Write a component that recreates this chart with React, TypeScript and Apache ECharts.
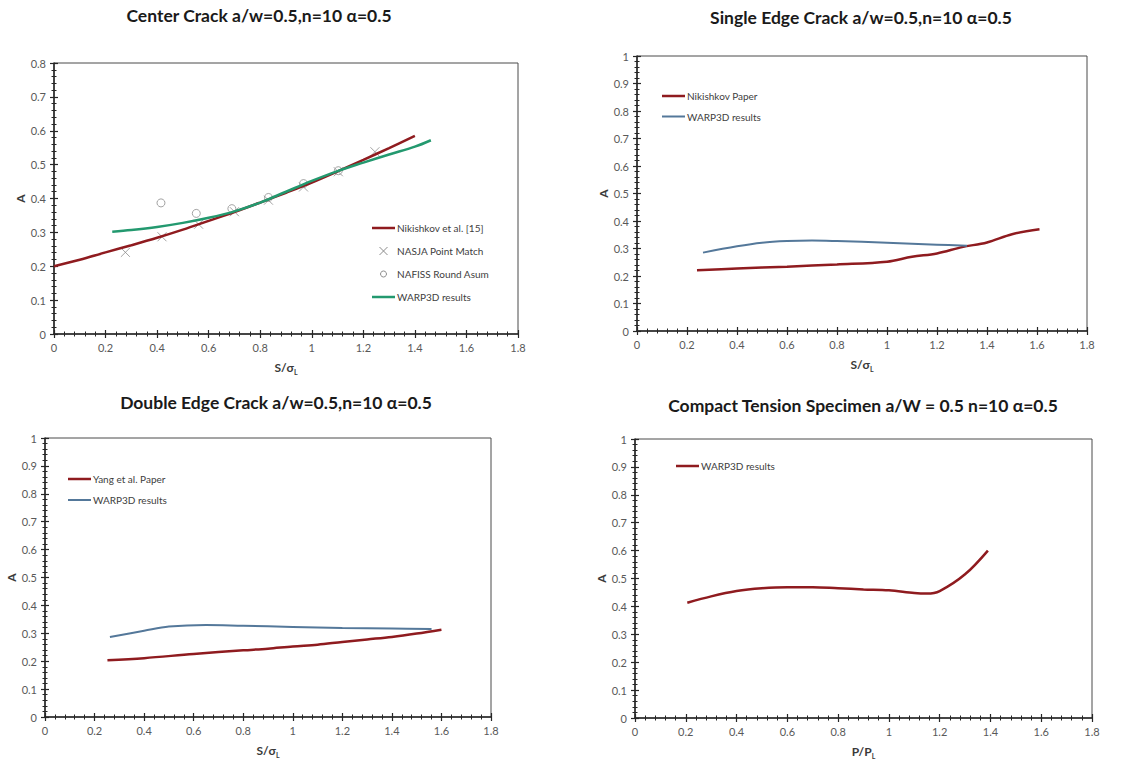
import React, { useEffect, useRef } from "react";
import * as echarts from "echarts";

// ---- data: [S/σL or P/PL, A] pairs ----
const centerNikishkov: [number, number][] = [
  [0, 0.2], [0.1, 0.219], [0.2, 0.241], [0.3, 0.262], [0.4, 0.284], [0.5, 0.308],
  [0.6, 0.334], [0.7, 0.36], [0.8, 0.388], [0.9, 0.417], [1.0, 0.447], [1.1, 0.48],
  [1.2, 0.514], [1.3, 0.549], [1.4, 0.585],
];
const centerNasja: [number, number][] = [
  [0.277, 0.241], [0.419, 0.287], [0.561, 0.324], [0.7, 0.361], [0.832, 0.395],
  [0.968, 0.434], [1.103, 0.479], [1.245, 0.538],
];
const centerNafiss: [number, number][] = [
  [0.415, 0.387], [0.552, 0.356], [0.69, 0.37], [0.832, 0.403], [0.968, 0.444], [1.103, 0.482],
];
const centerWarp: [number, number][] = [
  [0.226, 0.302], [0.3, 0.307], [0.4, 0.316], [0.5, 0.328], [0.6, 0.343], [0.7, 0.362],
  [0.8, 0.388], [0.9, 0.42], [1.0, 0.452], [1.1, 0.481], [1.2, 0.506], [1.3, 0.53],
  [1.4, 0.553], [1.462, 0.572],
];
const singleNikishkov: [number, number][] = [
  [0.24, 0.221], [0.4, 0.227], [0.6, 0.234], [0.8, 0.242], [1.0, 0.252], [1.1, 0.27],
  [1.2, 0.282], [1.3, 0.305], [1.4, 0.322], [1.5, 0.352], [1.61, 0.37],
];
const singleWarp: [number, number][] = [
  [0.264, 0.285], [0.4, 0.308], [0.5, 0.321], [0.6, 0.327], [0.7, 0.329], [0.8, 0.327],
  [1.0, 0.321], [1.2, 0.314], [1.32, 0.31],
];
const doubleYang: [number, number][] = [
  [0.252, 0.203], [0.4, 0.211], [0.6, 0.226], [0.8, 0.239], [0.9, 0.245], [1.0, 0.253],
  [1.1, 0.259], [1.2, 0.269], [1.3, 0.278], [1.4, 0.287], [1.5, 0.299], [1.6, 0.313],
];
const doubleWarp: [number, number][] = [
  [0.262, 0.287], [0.4, 0.309], [0.5, 0.324], [0.65, 0.33], [0.8, 0.327], [1.0, 0.323],
  [1.2, 0.319], [1.4, 0.317], [1.56, 0.315],
];
const compactWarp: [number, number][] = [
  [0.206, 0.413], [0.3, 0.436], [0.4, 0.455], [0.5, 0.465], [0.6, 0.469], [0.7, 0.469],
  [0.8, 0.465], [0.9, 0.461], [1.0, 0.458], [1.1, 0.448], [1.15, 0.446], [1.2, 0.455],
  [1.3, 0.515], [1.39, 0.6],
];

const titles = [
  "Center Crack a/w=0.5,n=10 α=0.5",
  "Single Edge Crack a/w=0.5,n=10 α=0.5",
  "Double Edge Crack a/w=0.5,n=10 α=0.5",
  "Compact Tension Specimen a/W = 0.5 n=10 α=0.5",
];
const xNames = ["S/σ{sub|L}", "S/σ{sub|L}", "S/σ{sub|L}", "P/P{sub|L}"];
const yMax = [0.8, 1, 1, 1];

// ---- styling ----
const FONT = 'Lato, "Open Sans", sans-serif';
const RED = "#8f1b1f";
const GREEN = "#23996f";
const BLUE = "#54789a";
const MARK = "#8c8c8c";
const AXIS = "#262626";

const grids = [
  { left: 54, top: 63, width: 464, height: 271 },
  { left: 637, top: 56, width: 450, height: 275 },
  { left: 45, top: 438, width: 446, height: 279 },
  { left: 635, top: 439, width: 457, height: 279 },
];
const titlePos = [
  [259, 15],
  [861, 17],
  [276, 402],
  [863, 405],
];

type LegendEntry = { name: string; kind: "line" | "cross" | "circle"; color: string; width?: number };
const legends: { x: number; y: number; gap: number; items: LegendEntry[] }[] = [
  {
    x: 372, y: 228, gap: 23,
    items: [
      { name: "Nikishkov et al. [15]", kind: "line", color: RED, width: 2.5 },
      { name: "NASJA Point Match", kind: "cross", color: MARK },
      { name: "NAFISS Round Asum", kind: "circle", color: MARK },
      { name: "WARP3D results", kind: "line", color: GREEN, width: 2.5 },
    ],
  },
  {
    x: 662, y: 96, gap: 20.5,
    items: [
      { name: "Nikishkov Paper", kind: "line", color: RED, width: 2.5 },
      { name: "WARP3D results", kind: "line", color: BLUE, width: 2 },
    ],
  },
  {
    x: 68, y: 479, gap: 21,
    items: [
      { name: "Yang et al. Paper", kind: "line", color: RED, width: 2.5 },
      { name: "WARP3D results", kind: "line", color: BLUE, width: 2 },
    ],
  },
  {
    x: 676, y: 466, gap: 21,
    items: [{ name: "WARP3D results", kind: "line", color: RED, width: 2.5 }],
  },
];

function legendGraphics() {
  const out: any[] = [];
  legends.forEach((lg) => {
    lg.items.forEach((it, k) => {
      const cy = lg.y + k * lg.gap;
      const x0 = lg.x;
      const x1 = lg.x + 23;
      if (it.kind === "line") {
        out.push({
          type: "line",
          shape: { x1: x0, y1: cy, x2: x1, y2: cy },
          style: { stroke: it.color, lineWidth: it.width ?? 2 },
        });
      } else if (it.kind === "cross") {
        const cx = (x0 + x1) / 2;
        out.push({
          type: "line",
          shape: { x1: cx - 4, y1: cy - 4, x2: cx + 4, y2: cy + 4 },
          style: { stroke: it.color, lineWidth: 1 },
        });
        out.push({
          type: "line",
          shape: { x1: cx - 4, y1: cy + 4, x2: cx + 4, y2: cy - 4 },
          style: { stroke: it.color, lineWidth: 1 },
        });
      } else {
        out.push({
          type: "circle",
          shape: { cx: (x0 + x1) / 2, cy, r: 3 },
          style: { fill: "none", stroke: it.color, lineWidth: 1 },
        });
      }
      out.push({
        type: "text",
        x: x1 + 2,
        y: cy,
        style: {
          text: it.name,
          fill: "#404040",
          font: `10px ${FONT}`,
          align: "left",
          verticalAlign: "middle",
        },
      });
    });
  });
  return out;
}

function titleGraphics() {
  return titles.map((t, i) => ({
    type: "text",
    x: titlePos[i][0],
    y: titlePos[i][1],
    style: {
      text: t,
      fill: "#1a1a1a",
      font: `bold 17.5px ${FONT}`,
      align: "center",
      verticalAlign: "middle",
    },
  }));
}

const tickLine = { color: AXIS, width: 1.2 };

function xAxes() {
  const main = grids.map((_, i) => ({
    gridIndex: i,
    type: "value",
    position: "bottom",
    min: 0,
    max: 1.8,
    interval: 0.2,
    axisLine: { show: true, onZero: false, lineStyle: { color: AXIS, width: 1.5 } },
    axisTick: { show: true, length: 4, lineStyle: tickLine },
    minorTick: { show: true, splitNumber: 5, length: 2.5, lineStyle: { color: AXIS, width: 1 } },
    splitLine: { show: false },
    minorSplitLine: { show: false },
    axisLabel: { color: "#595959", fontSize: 11, fontFamily: FONT, margin: 8 },
    name: xNames[i],
    nameLocation: "middle",
    nameGap: 26,
    nameTextStyle: {
      color: "#3a3a3a",
      fontSize: 12,
      fontWeight: "bold",
      fontFamily: FONT,
      rich: {
        sub: { fontSize: 7, fontWeight: "bold", color: "#3a3a3a", fontFamily: FONT, padding: [8, 0, 0, 0] },
      },
    },
  }));
  const inner = grids.map((_, i) => ({
    gridIndex: i,
    type: "value",
    position: "bottom",
    min: 0,
    max: 1.8,
    interval: 0.2,
    axisLine: { show: false, onZero: false },
    axisTick: { show: true, inside: true, length: 4, lineStyle: tickLine },
    minorTick: { show: true, splitNumber: 5, length: 2.5, lineStyle: { color: AXIS, width: 1 } },
    splitLine: { show: false },
    minorSplitLine: { show: false },
    axisLabel: { show: false },
  }));
  return [...main, ...inner];
}

function yAxes() {
  const main = grids.map((_, i) => ({
    gridIndex: i,
    type: "value",
    position: "left",
    min: 0,
    max: yMax[i],
    interval: 0.1,
    axisLine: { show: true, onZero: false, lineStyle: { color: AXIS, width: 1.5 } },
    axisTick: { show: true, length: 4, lineStyle: tickLine },
    minorTick: { show: true, splitNumber: 5, length: 2.5, lineStyle: { color: AXIS, width: 1 } },
    splitLine: { show: false },
    minorSplitLine: { show: false },
    axisLabel: { color: "#595959", fontSize: 11, fontFamily: FONT, margin: 8 },
    name: "A",
    nameLocation: "middle",
    nameRotate: 90,
    nameGap: 27,
    nameTextStyle: { color: "#3a3a3a", fontSize: 12, fontWeight: "bold", fontFamily: FONT },
  }));
  const inner = grids.map((_, i) => ({
    gridIndex: i,
    type: "value",
    position: "left",
    min: 0,
    max: yMax[i],
    interval: 0.1,
    axisLine: { show: false, onZero: false },
    axisTick: { show: true, inside: true, length: 4, lineStyle: tickLine },
    minorTick: { show: true, splitNumber: 5, length: 2.5, lineStyle: { color: AXIS, width: 1 } },
    splitLine: { show: false },
    minorSplitLine: { show: false },
    axisLabel: { show: false },
  }));
  return [...main, ...inner];
}

function lineSeries(name: string, data: [number, number][], panel: number, color: string, width: number) {
  return {
    type: "line",
    name,
    xAxisIndex: panel,
    yAxisIndex: panel,
    data,
    smooth: 0.35,
    showSymbol: false,
    symbol: "none",
    lineStyle: { color, width },
    itemStyle: { color },
    z: 3,
  };
}

export default function App() {
  const ref = useRef<HTMLDivElement>(null);

  useEffect(() => {
    if (!ref.current) return;
    const chart = echarts.init(ref.current, undefined, { renderer: "svg" });
    chart.setOption({
      animation: false,
      backgroundColor: "#ffffff",
      grid: grids.map((g) => ({
        ...g,
        show: true,
        borderColor: "#4a4a4a",
        borderWidth: 1,
        backgroundColor: "transparent",
        containLabel: false,
      })),
      xAxis: xAxes(),
      yAxis: yAxes(),
      series: [
        lineSeries("Nikishkov et al. [15]", centerNikishkov, 0, RED, 2.5),
        {
          type: "scatter",
          name: "NASJA Point Match",
          xAxisIndex: 0,
          yAxisIndex: 0,
          data: centerNasja,
          symbol: "path://M0,0 L10,10 M10,0 L0,10",
          symbolSize: 9,
          itemStyle: { color: "transparent", borderColor: MARK, borderWidth: 1 },
          z: 2,
        },
        {
          type: "scatter",
          name: "NAFISS Round Asum",
          xAxisIndex: 0,
          yAxisIndex: 0,
          data: centerNafiss,
          symbol: "circle",
          symbolSize: 8,
          itemStyle: { color: "transparent", borderColor: MARK, borderWidth: 1 },
          z: 2,
        },
        lineSeries("WARP3D results", centerWarp, 0, GREEN, 2.5),
        lineSeries("Nikishkov Paper", singleNikishkov, 1, RED, 2.5),
        lineSeries("WARP3D results", singleWarp, 1, BLUE, 2),
        lineSeries("Yang et al. Paper", doubleYang, 2, RED, 2.5),
        lineSeries("WARP3D results", doubleWarp, 2, BLUE, 2),
        lineSeries("WARP3D results", compactWarp, 3, RED, 2.5),
      ],
      graphic: [...titleGraphics(), ...legendGraphics()],
    });
    return () => chart.dispose();
  }, []);

  return (
    <div
      ref={ref}
      style={{ position: "fixed", left: 0, top: 0, width: 1128, height: 761, background: "#fff" }}
    />
  );
}
